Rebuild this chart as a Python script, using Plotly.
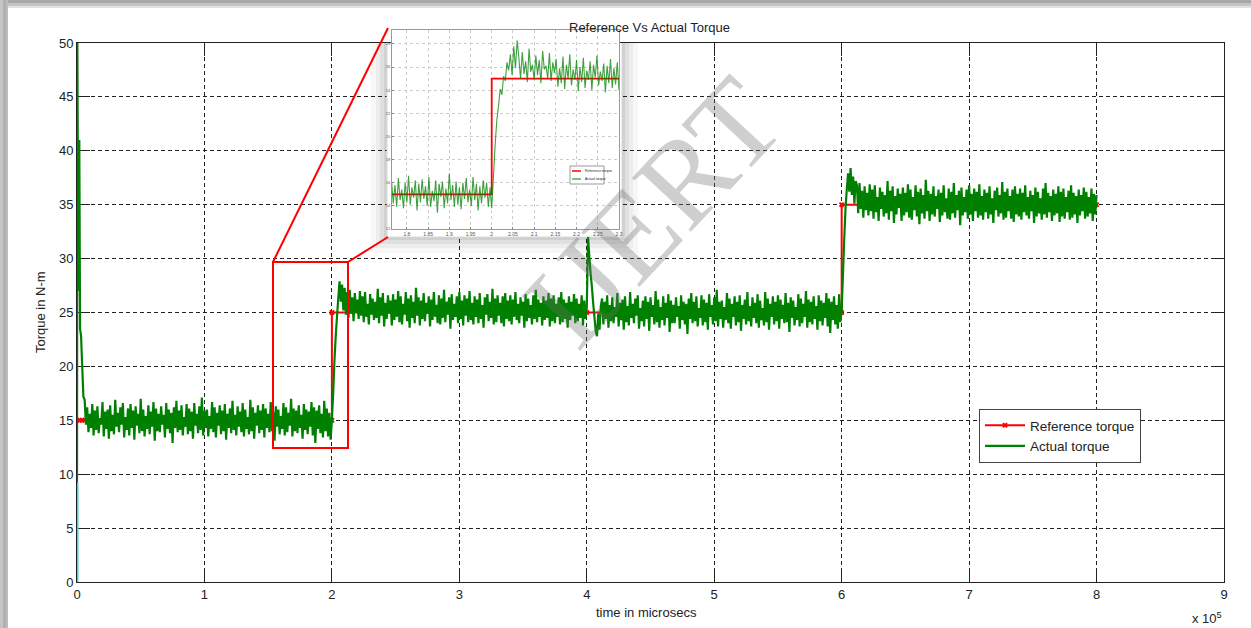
import plotly.graph_objects as go

# ---------------- data ----------------
# start-up transient of the actual torque (time in microseconds)
start_t = [0, 300, 1000, 1800, 2400, 3200, 4000, 5000, 6000, 7000]
start_y = [9.2, 50, 27, 41, 23.5, 22.8, 20.3, 17.2, 16.9, 14.6]

# regular samples, every 1000 microseconds from 8000 to 800000
main_t = list(range(8000, 800001, 1000))

seg_15 = [16.2,13.9,15.6,14.3,16.5,13.6,15.9,14.1,16.3,13.8,15.2,14.6,
          16.7,13.5,15.8,14.2,16.0,13.3,16.4,14.0,15.5,13.7,16.9,14.4,
          15.7,13.9,16.2,14.6,16.6,13.4,15.3,14.1,16.1,13.6,16.5,14.3,
          15.9,13.2,16.3,14.5,15.6,13.8,17.0,14.0,16.0,13.5,15.4,14.2,
          16.4,13.7,15.8,14.4,16.7,13.1,16.1,14.0,15.6,13.9,16.3,14.6,
          15.5,13.4,16.6,14.2,16.0,13.8,15.7,12.9,16.2,14.3,16.8,13.9,
          15.9,14.1,16.4,13.6,15.3,14.4,16.5,13.7,16.1,14.0,15.8,13.3,
          16.6,14.5,15.6,13.8,16.3,14.1,17.1,13.6,15.9,14.3,16.0,13.5,
          15.4,14.2,16.7,13.9,16.2,13.4,15.7,14.5,16.4,13.7,15.9,14.0,
          16.5,13.2,15.6,14.3,16.1,13.8,16.8,14.1,15.5,13.6,16.3,14.4,
          15.8,13.9,16.6,13.5,16.0,14.2,15.3,13.7,16.9,14.0,16.2,13.3,
          15.7,14.5,16.4,13.8,15.9,14.1,16.5,13.4,16.1,14.3,15.6,13.9,
          16.7,14.0,15.8,13.1,16.3,14.4,16.0,13.7,15.4,14.2,16.6,13.6,
          16.2,13.9,15.7,14.5,17.0,13.5,16.1,14.0,15.9,13.8,16.4,14.3,
          15.5,13.3,16.5,14.1,16.0,13.7,15.8,14.4,16.7,13.6,16.2,12.9,
          15.9,14.2,16.4,13.8,15.6,13.4,16.8,14.0,16.1,13.5,15.7,13.2]

seg_25a = [15.0,17.5,20.5,22.8,24.6,26.3,27.9,26.0,27.6,25.2,27.3,24.8,
           26.9,24.5,27.1,24.9,26.4,24.2,26.8,25.0,26.2,24.4,27.0,24.7,
           26.5,24.1,26.9,24.6,25.8,23.9,26.7,24.8,26.3,24.3,26.0,24.5,
           27.2,24.0,26.4,24.7,26.8,23.7,25.9,24.4,26.6,24.9,26.1,23.8,
           26.7,24.3,26.2,24.6,27.0,24.1,26.5,23.9,25.8,24.8,26.9,24.2,
           26.3,23.6,26.6,24.5,26.0,24.0,27.3,24.7,26.4,23.8,26.1,24.4,
           26.8,24.2,25.9,24.9,26.5,23.7,26.2,24.3,26.9,24.6,25.7,24.0,
           26.6,23.9,26.3,24.5,27.1,24.1,26.0,24.8,26.4,23.5,26.7,24.3,
           25.8,24.6,26.5,24.0,26.9,24.4,26.1,23.8,26.6,24.7,26.3,24.1,
           27.0,24.3,25.9,23.9,26.5,24.6,26.2,24.0,26.8,24.4,25.7,23.6,
           26.4,24.8,26.7,24.2,26.0,24.5,27.2,23.9,26.3,24.1,26.6,24.7,
           25.9,24.0,26.5,23.7,26.8,24.4,26.1,24.2,26.6,23.9,26.2,24.6,
           26.9,24.3,25.8,24.0,26.4,24.7,26.0,23.6,26.7,24.2,26.3,24.5,
           25.7,23.9,26.6,24.4,27.1,24.1,26.2,24.6,25.9,23.8,26.5,24.3,
           26.1,24.5,26.8,23.7,26.3,24.2,26.6,24.0,25.8,24.6,26.4,23.9,
           26.9,24.1,26.2,24.4,25.9,23.6,26.5,24.3,26.0,24.7,26.7,24.0,
           26.3,24.2,25.8,24.5,26.6,23.8,26.1,24.4]

seg_25b = [25.5,32.0,30.2,28.6,27.4,25.9,24.6,23.3,22.8,24.9,23.4,25.6,
           26.3,23.9,26.0,24.4,26.6,23.6,25.7,24.2,26.4,24.0,25.5,24.6,
           26.8,23.7,25.9,24.3,26.2,23.4,26.5,24.1,25.6,23.8,26.9,24.5,
           25.8,24.0,26.3,24.7,26.6,23.5,25.4,24.2,26.1,23.7,26.5,24.4,
           26.0,23.3,26.4,24.6,25.7,23.9,27.0,24.1,26.2,23.6,25.5,24.3,
           26.5,23.8,25.9,24.5,26.7,23.2,26.1,24.0,25.7,24.0,26.4,24.6,
           25.6,23.5,26.6,24.3,26.0,23.9,25.8,23.0,26.3,24.4,26.8,24.0,
           26.0,24.2,26.5,23.7,25.4,24.5,26.6,23.8,26.2,24.1,25.9,23.4,
           26.7,24.6,25.7,23.9,26.4,24.2,27.1,23.7,26.0,24.4,26.1,23.6,
           25.5,24.3,26.8,24.0,26.3,23.5,25.8,24.6,26.5,23.8,26.0,24.1,
           26.6,23.3,25.7,24.4,26.2,23.9,26.9,24.2,25.6,23.7,26.4,24.5,
           25.9,24.0,26.7,23.6,26.1,24.3,25.4,23.8,26.9,24.1,26.3,23.4,
           25.8,24.6,26.5,23.9,26.0,24.2,26.6,23.5,26.2,24.4,25.7,24.0,
           26.8,24.1,25.9,23.2,26.4,24.5,26.1,23.8,25.5,24.3,26.7,23.7,
           26.3,24.0,25.8,24.6,27.0,23.6,26.2,24.1,26.0,23.9,26.5,24.4,
           25.6,23.4,26.6,24.2,26.1,23.8,25.9,24.5,26.8,23.7,26.3,23.1,
           26.0,24.3,26.5,23.9,25.7,23.5,26.7,24.1]

seg_35 = [25.2,28.5,31.8,34.6,36.4,37.9,36.2,38.4,35.9,37.6,35.1,37.2,
          36.8,34.2,37.0,34.6,36.3,33.8,36.7,34.5,36.1,34.0,36.9,34.4,
          36.4,33.7,36.8,34.3,35.7,33.5,36.6,34.6,36.2,33.9,35.9,34.2,
          37.2,33.6,36.3,34.4,36.7,33.3,35.8,34.1,36.5,34.7,36.0,33.5,
          36.6,34.0,36.1,34.3,36.9,33.8,36.4,33.6,35.7,34.5,36.8,33.9,
          36.2,33.2,36.5,34.2,35.9,33.7,37.3,34.4,36.3,33.5,36.0,34.1,
          36.7,33.9,35.8,34.6,36.4,33.4,36.1,34.0,36.8,34.3,35.6,33.7,
          36.5,33.6,36.2,34.2,37.0,33.8,35.9,34.5,36.3,33.1,36.6,34.0,
          35.7,34.3,36.4,33.7,36.8,34.1,36.0,33.5,36.5,34.4,36.2,33.8,
          36.9,34.0,35.8,33.6,36.4,34.3,36.1,33.7,36.7,34.1,35.6,33.3,
          36.3,34.5,36.6,33.9,35.9,34.2,37.1,33.6,36.2,33.8,36.5,34.4,
          35.8,33.7,36.4,33.4,36.7,34.1,36.0,33.9,36.5,33.6,36.1,34.3,
          36.8,34.0,35.7,33.7,36.3,34.4,35.9,33.3,36.6,33.9,36.2,34.2,
          35.6,33.6,36.5,34.1,37.0,33.8,36.1,34.3,35.8,33.5,36.4,34.0,
          36.0,34.2,36.7,33.4,36.2,33.9,36.5,33.7,35.7,34.3,36.3,33.6,
          36.8,33.8,36.1,34.1,35.8,33.3,36.4,34.0,35.9,34.4,36.6,33.7,
          36.2,33.9,35.7,34.2,36.5,33.5,36.0,34.1,35.9]

actual_t = start_t + main_t
actual_y = start_y + seg_15 + seg_25a + seg_25b + seg_35

ref_t = [0, 2000, 4000, 6000, 200000, 200000, 400000, 600000, 600000, 800000]
ref_y = [15, 15, 15, 15, 15, 25, 25, 25, 35, 35]

init_t = [0, 0]
init_y = [0, 9.2]

# zoomed inset (1.765e5 .. 2.3e5 microseconds)
inset_t = list(range(176400, 230001, 400))
inset_low = [16.1,14.2,15.8,13.9,16.4,14.5,15.4,13.8,16.0,14.3,
             16.6,14.1,15.6,14.7,16.2,13.6,15.9,14.3,16.3,14.6,
             15.7,14.0,16.5,13.9,15.3,14.4,16.2,13.4,15.9,14.8,
             16.1,13.8,15.5,14.2,16.8,14.5,15.8,13.9,16.1,14.1,
             15.6,13.7,16.0,14.6,16.4,14.3,15.4,14.0,16.5,14.5,
             15.9,13.6,15.7,14.2,16.2,14.7,16.0,13.9,15.6]
inset_high = [13.8,16.5,19.2,21.4,22.6,24.1,23.6,25.2,24.8,26.4,25.7,27.1,25.3,27.8,25.9,28.3,
              26.8,25.0,27.3,25.4,26.5,24.7,27.6,25.6,26.2,24.9,
              27.0,25.3,26.6,24.6,27.4,25.8,26.1,25.0,27.2,24.8,
              26.4,25.5,
              26.7,24.3,25.9,24.6,26.9,24.1,26.2,25.0,27.1,24.4,
              25.8,24.9,26.6,23.9,26.0,24.7,26.8,24.2,25.7,24.9,
              26.5,24.0,26.2,25.1,27.0,24.4,25.6,24.8,26.3,23.8,
              26.1,24.6,26.7,24.2,25.9,24.5,26.4,24.0]
inset_y = inset_low + inset_high
inset_ref_t = [176500, 200000, 200000, 230000]
inset_ref_y = [15, 15, 25, 25]

x_ticks = [0, 100000, 200000, 300000, 400000, 500000, 600000, 700000, 800000, 900000]
x_ticktext = ["0", "1", "2", "3", "4", "5", "6", "7", "8", "9"]
y_ticks = [0, 5, 10, 15, 20, 25, 30, 35, 40, 45, 50]
inset_xticks = [180000, 185000, 190000, 195000, 200000, 205000, 210000, 215000, 220000, 225000, 230000]
inset_xtext = ["1.8", "1.85", "1.9", "1.95", "2", "2.05", "2.1", "2.15", "2.2", "2.25", "2.3"]
inset_yticks = [12, 14, 16, 18, 20, 22, 24, 26, 28]

# ---------------- layout helpers (pixel -> paper / data) ----------------
W, H = 1251, 628
L, R, T, B = 77, 27, 20, 46
PW = W - L - R
PH = H - T - B
X0PX, X1PX, Y0PX, Y1PX = 77, 1224, 582, 43


def px(xp):
    return (xp - L) / PW


def py(yp):
    return (H - B - yp) / PH


def dx(xp):
    return (xp - X0PX) / (X1PX - X0PX) * 900000


def dy(yp):
    return (Y0PX - yp) / (Y0PX - Y1PX) * 50


FONT = "Liberation Sans, Arial, sans-serif"

fig = go.Figure()
fig.add_trace(go.Scatter(x=ref_t, y=ref_y, mode="lines+markers", name="Reference torque",
                         line=dict(color="#ff0000", width=2, simplify=False),
                         marker=dict(symbol="x", size=5, color="#ff0000")))
fig.add_trace(go.Scatter(x=actual_t, y=actual_y, mode="lines", name="Actual torque",
                         line=dict(color="#008000", width=2.2, simplify=False)))
fig.add_trace(go.Scatter(x=init_t, y=init_y, mode="lines", showlegend=False,
                         line=dict(color="#40d4d0", width=3)))
fig.add_trace(go.Scatter(x=inset_ref_t, y=inset_ref_y, mode="lines", showlegend=False,
                         xaxis="x2", yaxis="y2", line=dict(color="#ff0000", width=1.8)))
fig.add_trace(go.Scatter(x=inset_t, y=inset_y, mode="lines", showlegend=False,
                         xaxis="x2", yaxis="y2",
                         line=dict(color="rgba(0,128,0,0.75)", width=1.1, simplify=False)))

shapes = []
# outer card shadow (top and left)
for y0, y1, c in [(0, 3, "#a8a8a8"), (3, 6, "#c4c4c4"), (6, 8, "#e0e0e0")]:
    shapes.append(dict(type="rect", xref="paper", yref="paper", layer="below",
                       x0=px(0), x1=px(W), y0=py(y1), y1=py(y0),
                       fillcolor=c, line=dict(width=0)))
for x0, x1, c in [(0, 3, "#c4c4c4"), (3, 6, "#b0b0b0"), (6, 8, "#bcbcbc")]:
    shapes.append(dict(type="rect", xref="paper", yref="paper", layer="below",
                       x0=px(x0), x1=px(x1), y0=py(H), y1=py(0),
                       fillcolor=c, line=dict(width=0)))
# inset drop shadow and white card
for k, a in [(16, 0.03), (11, 0.04), (7, 0.05), (3, 0.07)]:
    shapes.append(dict(type="rect", xref="x", yref="y", layer="between",
                       x0=dx(387 - k), x1=dx(622 + k), y0=dy(237 + k), y1=dy(28 - k),
                       fillcolor=f"rgba(0,0,0,{a})", line=dict(width=0)))
shapes.append(dict(type="rect", xref="x", yref="y", layer="between",
                   x0=dx(387), x1=dx(622), y0=dy(237), y1=dy(20),
                   fillcolor="white", line=dict(color="#d8d8d8", width=1)))
# zoom box and connector lines
shapes.append(dict(type="rect", xref="paper", yref="paper", layer="above",
                   x0=px(273), x1=px(348), y0=py(448), y1=py(262),
                   line=dict(color="#ff0000", width=2)))
shapes.append(dict(type="line", xref="paper", yref="paper", layer="above",
                   x0=px(273), y0=py(262), x1=px(388), y1=py(28),
                   line=dict(color="#ff0000", width=2)))
shapes.append(dict(type="line", xref="paper", yref="paper", layer="above",
                   x0=px(348), y0=py(262), x1=px(388), y1=py(237),
                   line=dict(color="#ff0000", width=2)))
# tiny legend of the inset
shapes.append(dict(type="rect", xref="paper", yref="paper", layer="above",
                   x0=px(570), x1=px(604), y0=py(184), y1=py(166),
                   fillcolor="white", line=dict(color="#999999", width=1)))
shapes.append(dict(type="line", xref="paper", yref="paper", layer="above",
                   x0=px(572), x1=px(581), y0=py(171), y1=py(171),
                   line=dict(color="#ff0000", width=1.5)))
shapes.append(dict(type="line", xref="paper", yref="paper", layer="above",
                   x0=px(572), x1=px(581), y0=py(179), y1=py(179),
                   line=dict(color="#008000", width=1)))


def note(text, x, y, size=13, **kw):
    d = dict(text=text, x=px(x), y=py(y), xref="paper", yref="paper",
             xanchor="center", yanchor="middle", showarrow=False,
             font=dict(size=size, color="#222", family=FONT))
    d.update(kw)
    return d


annotations = [
    note("Reference Vs Actual Torque", 649, 27),
    note("Torque in N-m", 40, 312, textangle=-90),
    note("time in microsecs", 646, 612),
    note("x 10<sup>5</sup>", 1207, 618),
    note("Reference torque", 583, 171, size=3.5, xanchor="left"),
    note("Actual torque", 583, 179, size=3.5, xanchor="left"),
    note("IJERT", 652, 212, size=122, textangle=-47,
         font=dict(size=122, color="rgba(110,110,110,0.33)",
                   family="Liberation Serif, Times New Roman, serif")),
]

axis_common = dict(showgrid=True, gridcolor="#222", griddash="4px,3px", gridwidth=1,
                   zeroline=False, showline=True, linecolor="#222", linewidth=1,
                   mirror="ticks", ticks="inside", ticklen=13, tickcolor="#222",
                   layer="below traces", tickfont=dict(size=13, color="#222"))
inset_common = dict(showgrid=True, gridcolor="#cccccc", griddash="dot", gridwidth=1,
                    zeroline=False, showline=True, linecolor="#999", linewidth=1, mirror=True,
                    ticks="inside", ticklen=2, tickcolor="#888")

fig.update_layout(
    width=W, height=H,
    margin=dict(l=L, r=R, t=T, b=B, pad=0),
    paper_bgcolor="white", plot_bgcolor="white",
    font=dict(family=FONT, size=13, color="#222"),
    showlegend=True,
    legend=dict(x=px(979), y=py(409), xanchor="left", yanchor="top",
                bgcolor="white", bordercolor="#444", borderwidth=1, itemwidth=40,
                font=dict(size=13.5, color="#222", family=FONT), tracegroupgap=0),
    xaxis=dict(domain=[0, 1], range=[0, 900000], tickvals=x_ticks, ticktext=x_ticktext,
               **axis_common),
    yaxis=dict(domain=[0, (Y0PX - Y1PX) / PH], range=[0, 50], tickvals=y_ticks,
               **axis_common),
    xaxis2=dict(domain=[px(392), px(619)], anchor="y2", range=[176500, 230000],
                tickvals=inset_xticks, ticktext=inset_xtext,
                tickfont=dict(size=5, color="#555"), **inset_common),
    yaxis2=dict(domain=[py(229), py(30)], anchor="x2", range=[12, 29.2],
                tickvals=inset_yticks, tickfont=dict(size=4, color="#555"), **inset_common),
    shapes=shapes,
    annotations=annotations,
)

fig.write_html("out.html")
